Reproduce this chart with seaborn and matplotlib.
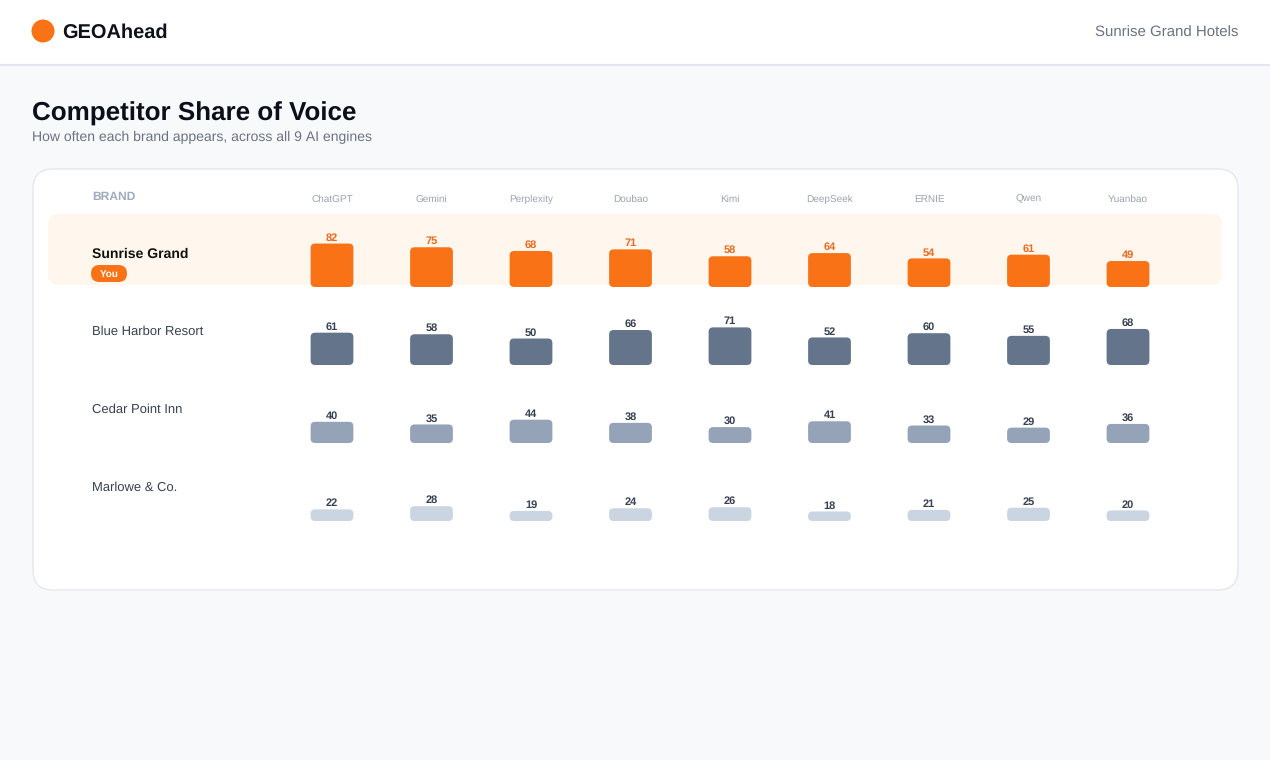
import matplotlib
matplotlib.use("Agg")
import matplotlib.pyplot as plt
from matplotlib.patches import FancyBboxPatch, Rectangle, Circle
import seaborn as sns

# データ
engines = ["ChatGPT", "Gemini", "Perplexity", "Doubao", "Kimi",
           "DeepSeek", "ERNIE", "Qwen", "Yuanbao"]
brands = ["Sunrise Grand", "Blue Harbor Resort", "Cedar Point Inn", "Marlowe & Co."]
sunrise_vals = [82, 75, 68, 71, 58, 64, 54, 61, 49]
blue_harbor_vals = [61, 58, 50, 66, 71, 52, 60, 55, 68]
cedar_point_vals = [40, 35, 44, 38, 30, 41, 33, 29, 36]
marlowe_vals = [22, 28, 19, 24, 26, 18, 21, 25, 20]
row_values = [sunrise_vals, blue_harbor_vals, cedar_point_vals, marlowe_vals]

bar_colors = ["#f97316", "#64748b", "#94a3b8", "#cbd5e1"]
label_colors = ["#ea6a1f", "#374151", "#374151", "#374151"]

W, H = 1270, 760
sns.set_theme(style="white")
plt.rcParams["font.family"] = ["Liberation Sans", "DejaVu Sans"]
plt.rcParams["text.hinting"] = "no_hinting"
plt.rcParams["text.hinting_factor"] = 1

fig = plt.figure(figsize=(W / 100, H / 100), dpi=100)
fig.patch.set_facecolor("#f8f9fb")

# 背景レイヤー (ピクセル座標)
bg = fig.add_axes([0, 0, 1, 1])
bg.set_xlim(0, W)
bg.set_ylim(H, 0)
bg.axis("off")

bg.add_patch(Rectangle((0, 0), W, 64, fc="white", ec="none"))
bg.plot([0, W], [64.5, 64.5], color="#e4e6f5", lw=1.5)
bg.add_patch(Circle((43, 31), 11.5, fc="#f97316", ec="none"))
bg.text(62, 33, "GEOAhead", fontsize=14.3, fontweight="bold", color="#0f111a", va="center")
bg.text(1238, 33, "Sunrise Grand Hotels", fontsize=10.8, color="#6b7280", va="center", ha="right")

bg.text(32, 113.5, "Competitor Share of Voice", fontsize=18.7, fontweight="bold", color="#0b0f1a", va="center")
bg.text(32, 137, "How often each brand appears, across all 9 AI engines", fontsize=10.1,
        color="#6b7280", va="center")

# カード
bg.add_patch(FancyBboxPatch((33, 169), 1205, 421, boxstyle="round,pad=0,rounding_size=20",
                            fc="white", ec="#e5e7eb", lw=1))
# 自社の行のハイライト
bg.add_patch(FancyBboxPatch((48, 214), 1174, 71, boxstyle="round,pad=0,rounding_size=10",
                            fc="#fff7ed", ec="none"))

bg.text(92, 197, "BRAND", fontsize=8.3, fontweight="bold", color="#a0aac0", va="center")

# 列ヘッダー・行ラベルの位置
col0, col_step = 332, 99.5
for j, eng in enumerate(engines):
    bg.text(col0 + j * col_step, 199, eng, fontsize=7.2, color="#9ca3af", ha="center", va="center")

row0, row_step = 287, 78
name_y = [254, 331.5, 409.5, 487.5]
for i, b in enumerate(brands):
    if i == 0:
        bg.text(92, name_y[i], b, fontsize=10, fontweight="bold", color="#111111", va="center")
    else:
        bg.text(92, name_y[i], b, fontsize=9.4, color="#374151", va="center")

bg.add_patch(FancyBboxPatch((91, 265), 36, 17, boxstyle="round,pad=0,rounding_size=8.5",
                            fc="#f97316", ec="none"))
bg.text(109, 274, "You", fontsize=7, fontweight="bold", color="white", ha="center", va="center")

# 各行のバー
px_per_unit = 0.53
ax_h_px = 70
ax_left = col0 - col_step / 2
ax_w_px = col_step * len(engines)
radius_px = 4.5

row_axes = []
for i, vals in enumerate(row_values):
    base = row0 + i * row_step
    ax = fig.add_axes([ax_left / W, 1 - base / H, ax_w_px / W, ax_h_px / H])
    ax.patch.set_alpha(0)
    sns.barplot(x=engines, y=vals, color=bar_colors[i], saturation=1, width=0.43, ax=ax)
    ax.set_xlim(-0.5, len(engines) - 0.5)
    ax.set_ylim(0, ax_h_px / px_per_unit)
    ax.axis("off")
    ax.bar_label(ax.containers[0], padding=0.5, fontsize=8, fontweight="bold",
                 color=label_colors[i])
    row_axes.append(ax)

# 角丸: seaborn の棒の位置をピクセル座標に変換して描き直す
to_px = bg.transData.inverted()
for i, ax in enumerate(row_axes):
    for p in ax.patches:
        (x0, y0), (x1, y1) = to_px.transform(ax.transData.transform(
            [(p.get_x(), p.get_y()), (p.get_x() + p.get_width(), p.get_y() + p.get_height())]))
        left, top = min(x0, x1), min(y0, y1)
        bg.add_patch(FancyBboxPatch((left, top), abs(x1 - x0), abs(y1 - y0),
                                    boxstyle=f"round,pad=0,rounding_size={radius_px}",
                                    fc=bar_colors[i], ec="none", zorder=5))
        p.set_visible(False)

fig.savefig("out.png", dpi=100)
